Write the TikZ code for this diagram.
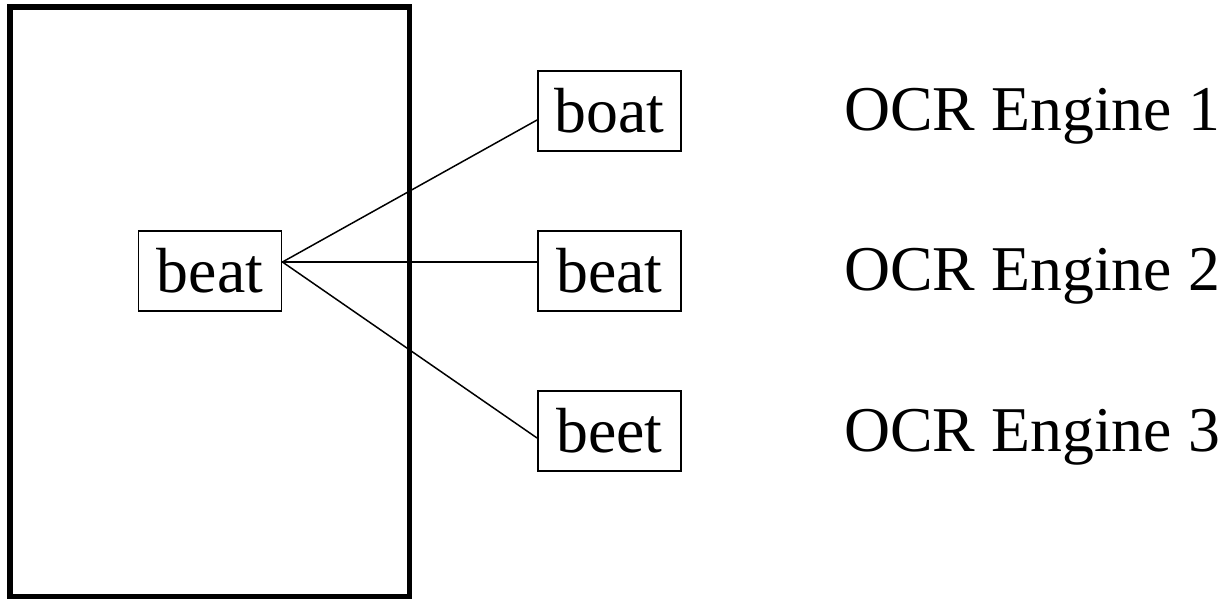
\documentclass[tikz,border=0pt]{standalone}
\usepackage{fontspec}
\setmainfont{Liberation Serif}
\usetikzlibrary{positioning}

\tikzset{
  word/.style={draw, line width=1.1pt, minimum width=2.86cm, minimum height=1.6cm, inner sep=0pt, font=\fontsize{36.3}{44}\selectfont},
  engine/.style={anchor=base west, inner sep=0pt, font=\fontsize{36.3}{44}\selectfont},
  link/.style={line width=0.85pt}
}

\begin{document}
\begin{tikzpicture}[x=0.02cm, y=-0.02cm]
\useasboundingbox (0,0) rectangle (1223,599);
\draw[line width=2.85pt] (10,7) rectangle (409,596);

\node[word] (page) at (210,271) {beat};

% right one
\node[word] (ocra) at (609.5,111) {boat};
\node[word] (ocrb) at (609.5,271) {beat};
\node[word] (ocrc) at (609.5,431) {beet};

\node[engine] (enga) at (844,130) {OCR Engine 1};
\node[engine] (engb) at (844,290) {OCR Engine 2};
\node[engine] (engc) at (844,451) {OCR Engine 3};

\draw[link] ([yshift=0.18cm]page.east) -- ([yshift=-0.18cm]ocra.west);
\draw[link] ([yshift=0.18cm]page.east) -- ([yshift=0.18cm]ocrb.west);
\draw[link] ([yshift=0.18cm]page.east) -- ([yshift=-0.14cm]ocrc.west);

\end{tikzpicture}
\end{document}
